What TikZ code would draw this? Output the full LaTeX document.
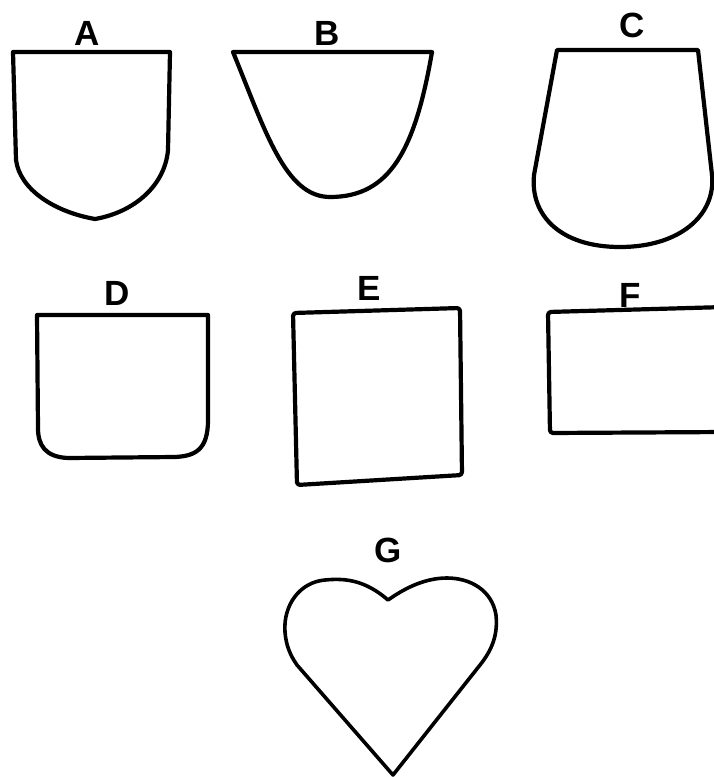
\documentclass[tikz,border=0pt]{standalone}
\usepackage{fontspec}
\setmainfont{Liberation Sans}
\begin{document}
\begin{tikzpicture}[x=1pt,y=-1pt,
  outline/.style={draw=black,line width=4.2pt,line join=round,line cap=round},
  lbl/.style={anchor=base,inner sep=0pt,font=\fontsize{35}{35}\selectfont\bfseries}]
\useasboundingbox (0,0) rectangle (713,777);
% A
\draw[outline] (13,52) -- (170,52) -- (168,150) .. controls (165,185) and (135,212) .. (95,219)
  .. controls (55,212) and (20,190) .. (16,160) -- cycle;
\node[lbl] (la) at (87,45) {A};
% B
\draw[outline] (233,52) -- (432,52) .. controls (415,150) and (390,197) .. (330,197)
  .. controls (285,197) and (265,130) .. (233,52) -- cycle;
\node[lbl] (lb) at (327,45) {B};
% C
\draw[outline] (557,50) -- (698,50) -- (712,175) .. controls (716,215) and (680,247) .. (620,247)
  .. controls (560,247) and (530,215) .. (534,175) -- cycle;
\node[lbl] (lc) at (632,37) {C};
% D
\draw[outline] (37,315) -- (208,315) -- (208,420) .. controls (208,450) and (195,456) .. (175,457)
  -- (68,458) .. controls (45,457) and (38,445) .. (38,428) -- cycle;
\node[lbl] (ld) at (117,305) {D};
% E
\draw[outline,rounded corners=3pt] (293,313) -- (460,308) -- (462,475) -- (297,485) -- cycle;
\node[lbl] (le) at (369,300) {E};
% F
\draw[outline,rounded corners=3pt] (725,307) -- (548,312) -- (550,433) -- (725,432);
\node[lbl] (lf) at (630,307) {F};
% G heart
\draw[outline,line width=3.6pt] (388,600) .. controls (365,580) and (345,578) .. (325,580)
  .. controls (300,582) and (283,605) .. (285,632) .. controls (286,645) and (290,655) .. (297,665)
  -- (393,775) -- (480,665) .. controls (492,650) and (498,635) .. (496,615)
  .. controls (492,590) and (470,578) .. (447,578) .. controls (425,578) and (405,588) .. (388,600) -- cycle;
\node[lbl] (lg) at (388,562) {G};
\end{tikzpicture}
\end{document}
